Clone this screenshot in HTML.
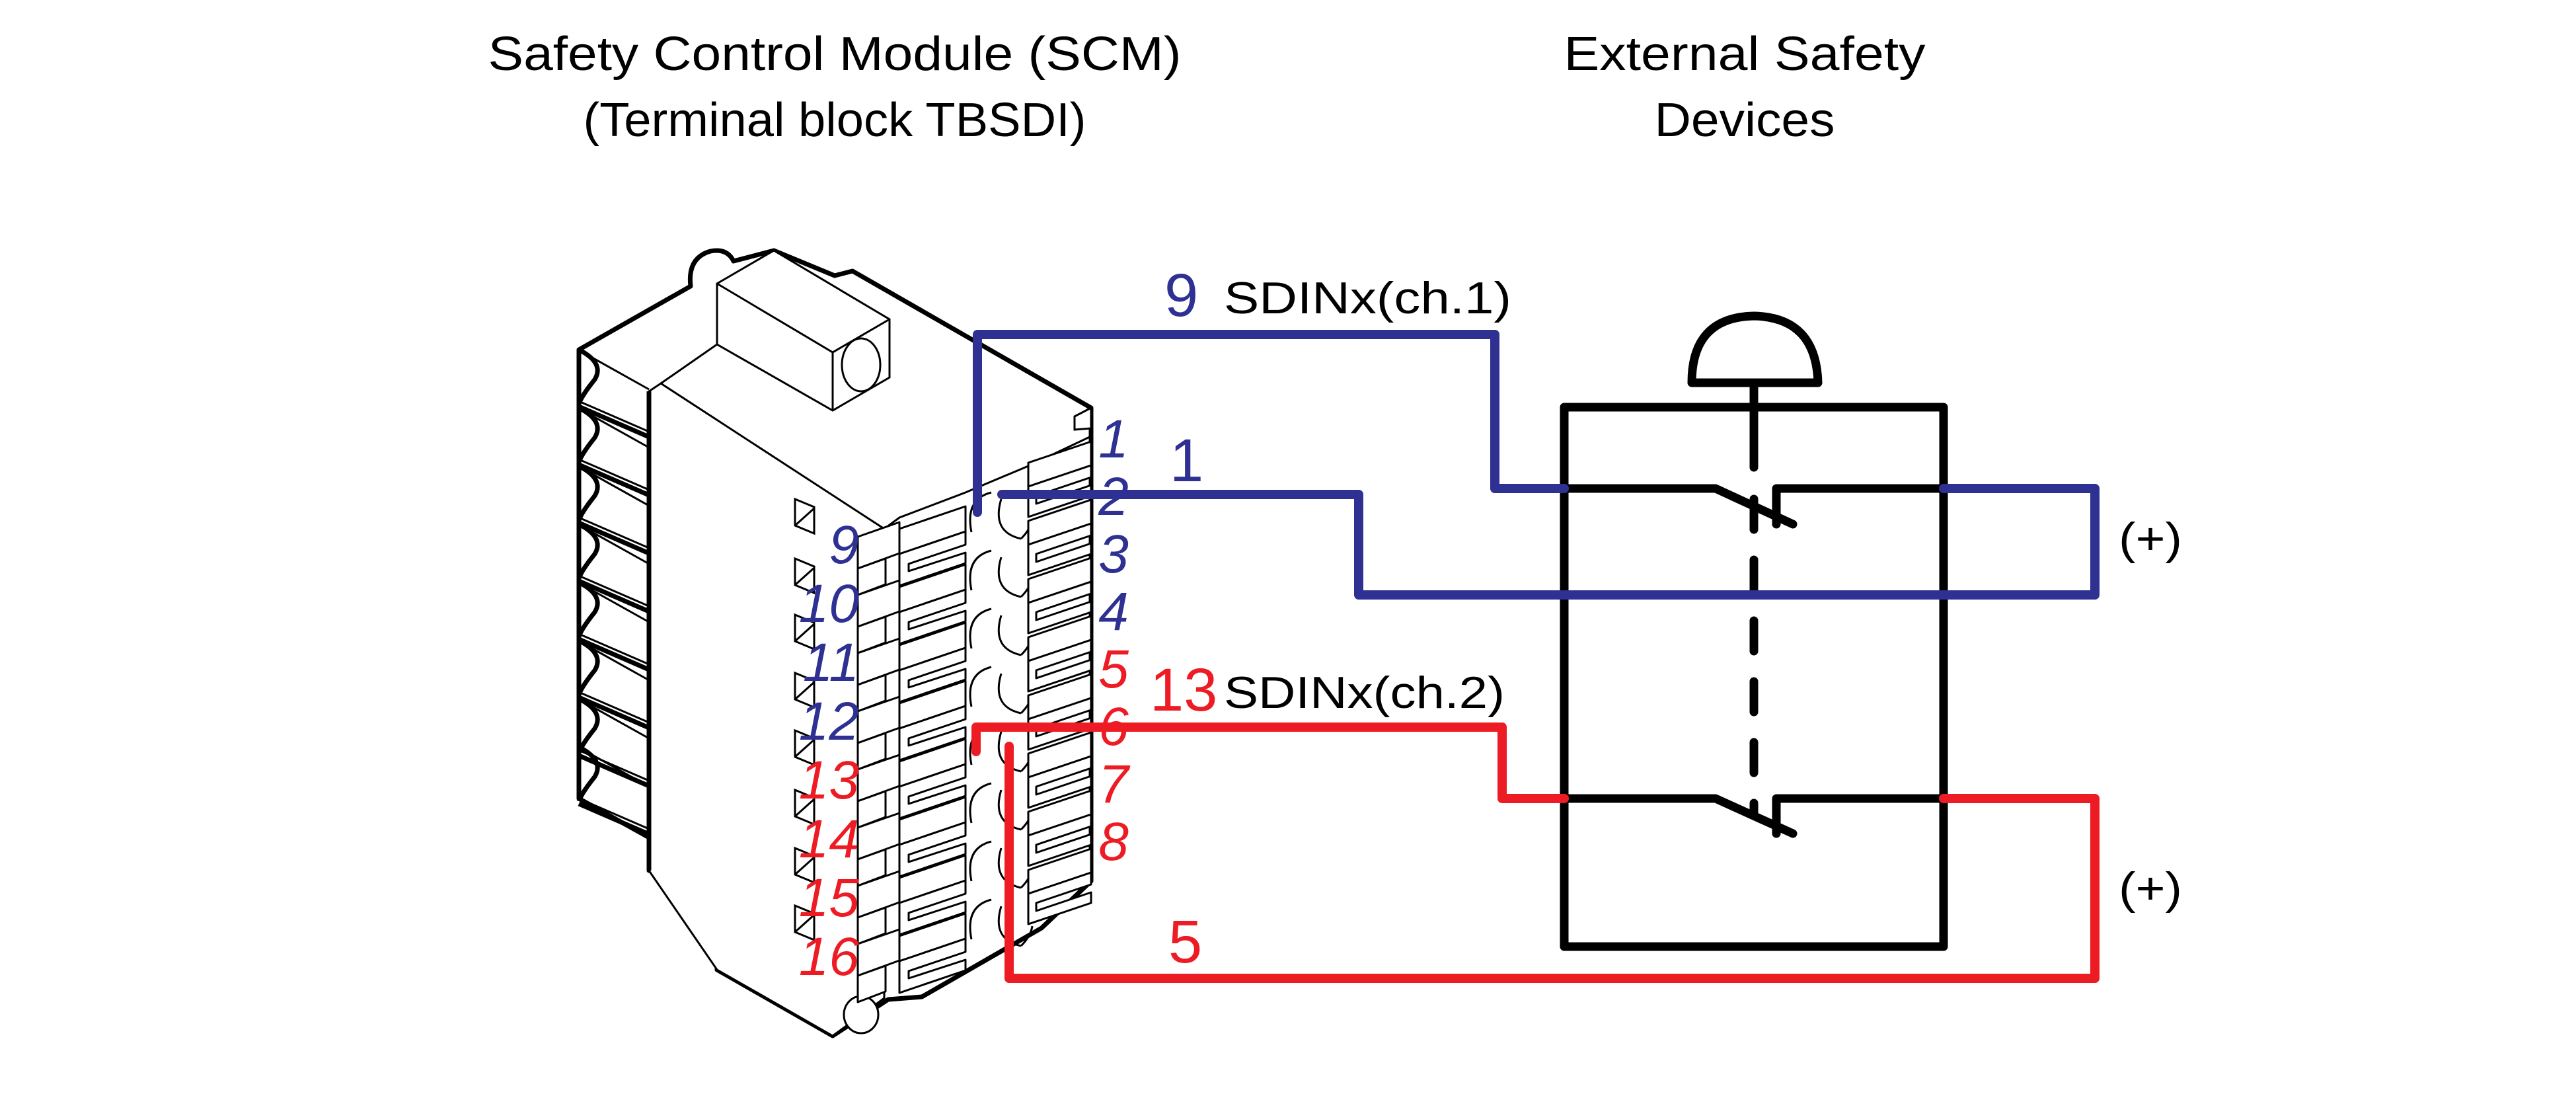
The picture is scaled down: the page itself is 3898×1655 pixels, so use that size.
<!DOCTYPE html>
<html><head><meta charset="utf-8"><style>
html,body{margin:0;padding:0;background:#fff}
svg{display:block}
text{font-family:"Liberation Sans",sans-serif}
</style></head><body>
<svg width="3898" height="1655" viewBox="0 0 3898 1655" xmlns="http://www.w3.org/2000/svg">
<defs>
<g id="pinA" fill="#fff" stroke="#000" stroke-width="3" stroke-linejoin="round">
  <polygon points="0,0 100,-34 100,4 0,38"/>
  <polygon points="0,38 100,4 100,24 14,53 14,64 100,36 100,52 0,86"/>
  <line x1="0" y1="0" x2="0" y2="86"/>
</g>
<g id="pinB" fill="#fff" stroke="#000" stroke-width="3" stroke-linejoin="round">
  <polygon points="0,0 95,-32 95,4 0,36"/>
  <polygon points="0,36 95,4 95,22 12,50 12,62 95,34 95,50 0,82"/>
</g>
<g id="hole" fill="none" stroke="#000" stroke-width="3">
  <path d="M0,60 Q-10,10 30,0"/>
  <path d="M45,10 Q30,60 75,70"/>
  <path d="M75,70 Q90,55 92,40"/>
</g>
<g id="blk" fill="#fff" stroke="#000" stroke-width="3" stroke-linejoin="round">
  <polygon points="1298,0 1361,-22 1361,25 1298,48"/>
  <polygon points="1298,48 1340,33 1340,72 1298,88"/>
</g>
<g id="sq" fill="#fff" stroke="#000" stroke-width="3">
  <polygon points="1203,0 1232,12 1232,52 1203,40"/>
  <line x1="1203" y1="40" x2="1232" y2="14"/>
</g>
<g id="rib" fill="none" stroke="#000">
  <path d="M876,0 Q915,20 900,45 Q880,70 876,82" stroke-width="7"/>
  <line x1="880" y1="3" x2="982" y2="60" stroke-width="3"/>
  <line x1="876" y1="78" x2="982" y2="124" stroke-width="3"/>
  <line x1="876" y1="86" x2="982" y2="132" stroke-width="7"/>
</g>
</defs>

<!-- Titles -->
<text x="1263" y="106" font-size="72" text-anchor="middle" textLength="1049" lengthAdjust="spacingAndGlyphs">Safety Control Module (SCM)</text>
<text x="1263" y="206" font-size="72" text-anchor="middle" textLength="761" lengthAdjust="spacingAndGlyphs">(Terminal block TBSDI)</text>
<text x="2640" y="106" font-size="72" text-anchor="middle" textLength="547" lengthAdjust="spacingAndGlyphs">External Safety</text>
<text x="2640" y="206" font-size="72" text-anchor="middle" textLength="273" lengthAdjust="spacingAndGlyphs">Devices</text>

<!-- Connector body -->
<path d="M876,529 L1045,433 Q1040,390 1075,380 Q1100,375 1110,395 L1171,379 L1263,417 L1290,410 L1651,617 L1651,1333 L1576,1404 L1395,1508 L1344,1512 L1260,1567 L1085,1467 L1085,1380 L1045,1358 Q1030,1335 1045,1320 L982,1317 L982,1267 L876,1208 Z" fill="#fff" stroke="#000" stroke-width="7" stroke-linejoin="round"/>
<use href="#rib" y="529"/>
<use href="#rib" y="617"/>
<use href="#rib" y="705"/>
<use href="#rib" y="793"/>
<use href="#rib" y="881"/>
<use href="#rib" y="969"/>
<use href="#rib" y="1057"/>
<use href="#rib" y="1130"/>
<polygon points="982,592 1000,580 1338,800 1338,1510 1260,1567 1085,1467 982,1317" fill="#fff" stroke="#000" stroke-width="3"/>
<line x1="982" y1="592" x2="982" y2="1317" stroke="#000" stroke-width="7"/>
<line x1="1000" y1="580" x2="1085" y2="521" stroke="#000" stroke-width="3"/>
<polygon points="1085,429 1171,379 1346,483 1346,571 1260,621 1085,521" fill="#fff" stroke="#000" stroke-width="3"/>
<polyline points="1085,429 1260,533 1346,483" fill="none" stroke="#000" stroke-width="3"/>
<line x1="1260" y1="533" x2="1260" y2="621" stroke="#000" stroke-width="3"/>
<ellipse cx="1303" cy="552" rx="29" ry="40" fill="#fff" stroke="#000" stroke-width="3"/>
<ellipse cx="1303" cy="1535" rx="26" ry="28" fill="#fff" stroke="#000" stroke-width="3"/>
<polyline points="1338,800 1361,783 1461,745 1556,705 1651,660" fill="none" stroke="#000" stroke-width="3"/>
<polygon points="1626,630 1651,617 1651,648 1626,650" fill="#fff" stroke="#000" stroke-width="3"/>

<use href="#sq" y="755"/><use href="#sq" y="845"/><use href="#sq" y="930"/><use href="#sq" y="1018"/>
<use href="#sq" y="1105"/><use href="#sq" y="1195"/><use href="#sq" y="1283"/><use href="#sq" y="1370"/>
<use href="#blk" y="812"/><use href="#blk" y="900"/><use href="#blk" y="988"/><use href="#blk" y="1076"/>
<use href="#blk" y="1164"/><use href="#blk" y="1252"/><use href="#blk" y="1340"/><use href="#blk" y="1428"/>
<g transform="translate(1470,0)">
<use href="#hole" y="745"/><use href="#hole" y="833"/><use href="#hole" y="921"/><use href="#hole" y="1009"/>
<use href="#hole" y="1097"/><use href="#hole" y="1185"/><use href="#hole" y="1273"/><use href="#hole" y="1361"/>
</g>
<g transform="translate(1361,0)">
<use href="#pinA" y="800"/><use href="#pinA" y="888"/><use href="#pinA" y="976"/><use href="#pinA" y="1064"/>
<use href="#pinA" y="1152"/><use href="#pinA" y="1240"/><use href="#pinA" y="1328"/><use href="#pinA" y="1416"/>
</g>
<g transform="translate(1556,0)">
<use href="#pinB" y="700"/><use href="#pinB" y="788"/><use href="#pinB" y="876"/><use href="#pinB" y="964"/>
<use href="#pinB" y="1052"/><use href="#pinB" y="1140"/><use href="#pinB" y="1228"/><use href="#pinB" y="1316"/>
</g>

<g font-size="82" font-style="italic" text-anchor="end">
<text x="1300" y="852" fill="#2e3192">9</text>
<text x="1300" y="941" fill="#2e3192">10</text>
<text x="1300" y="1030" fill="#2e3192">11</text>
<text x="1300" y="1119" fill="#2e3192">12</text>
<text x="1300" y="1208" fill="#ed1c24">13</text>
<text x="1300" y="1297" fill="#ed1c24">14</text>
<text x="1300" y="1386" fill="#ed1c24">15</text>
<text x="1300" y="1475" fill="#ed1c24">16</text>
</g>
<g font-size="82" font-style="italic" text-anchor="middle">
<text x="1685" y="692" fill="#2e3192">1</text>
<text x="1685" y="779" fill="#2e3192">2</text>
<text x="1685" y="866" fill="#2e3192">3</text>
<text x="1685" y="953" fill="#2e3192">4</text>
<text x="1685" y="1040" fill="#ed1c24">5</text>
<text x="1685" y="1127" fill="#ed1c24">6</text>
<text x="1685" y="1214" fill="#ed1c24">7</text>
<text x="1685" y="1301" fill="#ed1c24">8</text>
</g>

<g stroke="#000" stroke-width="13" fill="none" stroke-linecap="round" stroke-linejoin="round">
<rect x="2367" y="616" width="574" height="816"/>
<path d="M2560,579 Q2560,480 2654,478 Q2748,480 2751,579 Z"/>
<line x1="2654" y1="579" x2="2654" y2="707"/>
<line x1="2654" y1="755" x2="2654" y2="1230" stroke-dasharray="46,46"/>
<polyline points="2367,739 2596,739 2713,793"/>
<polyline points="2941,739 2688,739 2688,793"/>
<polyline points="2367,1208 2596,1208 2713,1261"/>
<polyline points="2941,1208 2688,1208 2688,1261"/>
</g>
<text x="3254" y="838" font-size="68" text-anchor="middle" textLength="96" lengthAdjust="spacingAndGlyphs">(+)</text>
<text x="3254" y="1367" font-size="68" text-anchor="middle" textLength="96" lengthAdjust="spacingAndGlyphs">(+)</text>

<g fill="none" stroke-width="14" stroke-linejoin="round" stroke-linecap="round">
<polyline stroke="#2e3192" points="1479,775 1479,506 2262,506 2262,739 2367,739"/>
<polyline stroke="#2e3192" points="1516,748 2056,748 2056,900 3170,900 3170,739 2941,739"/>
<polyline stroke="#ed1c24" points="1477,1137 1477,1100 2273,1100 2273,1208 2367,1208"/>
<polyline stroke="#ed1c24" points="1527,1129 1527,1480 3170,1480 3170,1208 2941,1208"/>
</g>

<text x="1762" y="478" font-size="92" fill="#2e3192">9</text>
<text x="1852" y="474" font-size="68" textLength="435" lengthAdjust="spacingAndGlyphs">SDINx(ch.1)</text>
<text x="1770" y="728" font-size="92" fill="#2e3192">1</text>
<text x="1740" y="1075" font-size="92" fill="#ed1c24">13</text>
<text x="1852" y="1071" font-size="68" textLength="425" lengthAdjust="spacingAndGlyphs">SDINx(ch.2)</text>
<text x="1768" y="1456" font-size="92" fill="#ed1c24">5</text>
</svg>
</body></html>
